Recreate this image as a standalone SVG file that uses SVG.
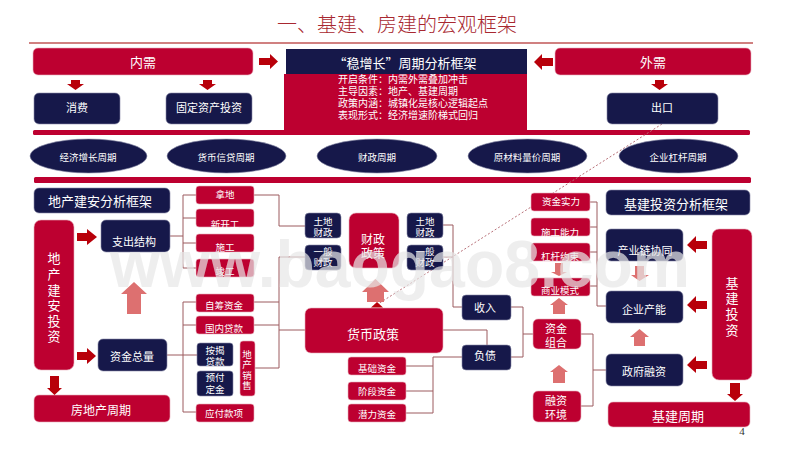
<svg xmlns="http://www.w3.org/2000/svg" width="800" height="450" viewBox="0 0 800 450">
<style>
text{font-family:"Noto Sans CJK SC","Noto Sans",sans-serif;fill:#fff;text-anchor:middle;dominant-baseline:central}
.r{fill:#bd0030;stroke:#e8b0bc;stroke-width:.6}
.n{fill:#16184a;stroke:#8a8ca8;stroke-width:.6}
.t9{font-size:9.5px}.t10{font-size:10px}.t11{font-size:11px}.t12{font-size:12px}.t13{font-size:13px}.t14{font-size:14px}
.c{fill:none;stroke:#9c5a5e;stroke-width:1}
.ar{fill:#b8000a}.ap{fill:#dd7070}
.l{text-anchor:start;font-size:10px}
</style>
<rect width="800" height="450" fill="#fff"/>
<text id="title" x="397" y="23" style="font-size:20px;fill:#a82830;font-weight:300">一、基建、房建的宏观框架</text>
<rect x="29" y="42" width="724" height="2" fill="#d08080"/>
<rect x="33" y="130" width="717" height="5" rx="1.5" fill="#bd0030"/>
<rect x="34" y="177" width="717" height="6" rx="1.5" fill="#bd0030"/>

<g id="connectors">
<path class="c" d="M170 236H183M183 195V268M183 195H196M183 218H196M183 243H196M183 268H196"/>
<path class="c" d="M254 195H279V226H305"/>
<path class="c" d="M167 355H183M183 302V412M183 302H196M183 325H196M183 355H197M183 412H196"/>
<path class="c" d="M254 302H279M254 325H279M255 368H279M279 368V257H305M279 330H305"/>
<path class="c" d="M443 225H453V307H462M443 257H453"/>
<path class="c" d="M443 330H487V345"/>
<path class="c" d="M462 357H433V413H406M406 366H433M406 391H433"/>
<path class="c" d="M511 307H523V357H511M523 334H533"/>
<path class="c" d="M590 202H597V306H606M590 227H597M590 252H597M590 286H597"/>
<path class="c" d="M581 334H593V406H581M593 370H606"/>
<path d="M662 124L378 304" fill="none" stroke="#b87078" stroke-width="1" stroke-dasharray="2 2"/>
</g>

<g id="center">
<rect x="284" y="74" width="243" height="61" fill="#bd0030"/>
<rect x="286" y="49" width="241" height="25" fill="#16184a"/>
<text x="405" y="62" class="t13">“稳增长”周期分析框架</text>
<text x="338" y="78" class="l">开启条件：内需外需叠加冲击</text>
<text x="338" y="90" class="l">主导因素：地产、基建周期</text>
<text x="338" y="102.5" class="l">政策内涵：城镇化是核心逻辑起点</text>
<text x="338" y="114" class="l">表现形式：经济增速阶梯式回归</text>
</g>

<g id="neixu"><rect class="r" x="33" y="48" width="220" height="27" rx="5"/><text x="143" y="61.5" class="t13">内需</text></g>
<g id="waixu"><rect class="r" x="555" y="48" width="196" height="27" rx="5"/><text x="653" y="61.5" class="t13">外需</text></g>
<g id="xiaofei"><rect class="n" x="34" y="93" width="86" height="31" rx="5"/><text x="77" y="107" class="t11">消费</text></g>
<g id="guding"><rect class="n" x="166" y="93" width="86" height="31" rx="5"/><text x="209" y="107" class="t11">固定资产投资</text></g>
<g id="chukou"><rect class="n" x="607" y="93" width="111" height="31" rx="5"/><text x="662" y="107" class="t11">出口</text></g>

<g id="e1"><ellipse cx="88.500" cy="156" rx="58.500" ry="17" class="n"/><text x="88" y="157" class="t9">经济增长周期</text></g>
<g id="e2"><ellipse cx="226.500" cy="156" rx="59.500" ry="17" class="n"/><text x="226" y="157" class="t9">货币信贷周期</text></g>
<g id="e3"><ellipse cx="377" cy="156" rx="60" ry="17" class="n"/><text x="377" y="157" class="t9">财政周期</text></g>
<g id="e4"><ellipse cx="527.500" cy="156" rx="59.500" ry="17" class="n"/><text x="527" y="157" class="t9">原材料量价周期</text></g>
<g id="e5"><ellipse cx="678.500" cy="156" rx="59.500" ry="17" class="n"/><text x="678" y="157" class="t9">企业杠杆周期</text></g>

<g id="dichan-kuang"><rect class="n" x="34" y="188" width="136" height="25" rx="5"/><text x="100" y="200" class="t13">地产建安分析框架</text></g>
<g id="dichan-touzi"><rect class="r" x="34" y="220" width="40" height="150" rx="7"/>
<text x="54" y="257" class="t13">地</text><text x="54" y="273" class="t13">产</text><text x="54" y="289" class="t13">建</text><text x="54" y="304" class="t13">安</text><text x="54" y="320" class="t13">投</text><text x="54" y="335" class="t13">资</text></g>
<g id="zhichu"><rect class="n" x="101" y="220" width="69" height="32" rx="5"/><text x="134" y="241" class="t11">支出结构</text></g>
<g id="zijin"><rect class="n" x="98" y="339" width="69" height="32" rx="5"/><text x="132" y="356" class="t11">资金总量</text></g>
<g id="fangdichan"><rect class="r" x="34" y="395" width="136" height="27" rx="5"/><text x="101" y="409" class="t12">房地产周期</text></g>

<g id="nadi"><rect class="r" x="196" y="186" width="58" height="18" rx="3"/><text x="225" y="194" class="t9">拿地</text></g>
<g id="xinkaigong"><rect class="r" x="196" y="209" width="58" height="18" rx="3"/><text x="225" y="224" class="t9">新开工</text></g>
<g id="shigong"><rect class="r" x="196" y="234" width="58" height="18" rx="3"/><text x="225" y="247" class="t9">施工</text></g>
<g id="jungong"><rect class="r" x="196" y="259" width="58" height="18" rx="3"/><text x="225" y="271" class="t9">竣工</text></g>
<g id="zichou"><rect class="r" x="196" y="294" width="58" height="18" rx="3"/><text x="224" y="305" class="t9">自筹资金</text></g>
<g id="guonei"><rect class="r" x="196" y="316" width="58" height="18" rx="3"/><text x="224" y="328" class="t9">国内贷款</text></g>
<g id="anjie"><rect class="n" x="197" y="343" width="36" height="23" rx="3"/><text x="215" y="350" class="t9">按揭</text><text x="215" y="361" class="t9">贷款</text></g>
<g id="yufu"><rect class="n" x="197" y="371" width="36" height="25" rx="3"/><text x="215" y="377" class="t9">预付</text><text x="215" y="389" class="t9">定金</text></g>
<g id="xiaoshou"><rect class="r" x="240" y="341" width="15" height="55" rx="3"/><text x="247" y="354" class="t9">地</text><text x="247" y="364" class="t9">产</text><text x="247" y="375" class="t9">销</text><text x="247" y="385" class="t9">售</text></g>
<g id="yingfu"><rect class="r" x="196" y="404" width="58" height="18" rx="3"/><text x="224" y="413" class="t9">应付款项</text></g>

<g id="tudi1"><rect class="n" x="305" y="213" width="36" height="25" rx="4"/><text x="323" y="221" class="t9">土地</text><text x="323" y="232" class="t9">财政</text></g>
<g id="yiban1"><rect class="n" x="305" y="245" width="36" height="25" rx="4"/><text x="323" y="251" class="t9">一般</text><text x="323" y="262" class="t9">财政</text></g>
<g id="caizheng"><rect class="r" x="349" y="213" width="50" height="55" rx="7"/><text x="373" y="238" class="t12">财政</text><text x="373" y="252" class="t12">政策</text></g>
<g id="tudi2"><rect class="n" x="407" y="213" width="36" height="25" rx="4"/><text x="425" y="221" class="t9">土地</text><text x="425" y="232" class="t9">财政</text></g>
<g id="yiban2"><rect class="n" x="407" y="245" width="36" height="25" rx="4"/><text x="425" y="251" class="t9">一般</text><text x="425" y="262" class="t9">财政</text></g>
<g id="huobi"><rect class="r" x="305" y="308" width="138" height="45" rx="6"/><text x="373" y="333" class="t13">货币政策</text></g>
<g id="shouru"><rect class="n" x="462" y="295" width="49" height="25" rx="4"/><text x="485" y="307" class="t11">收入</text></g>
<g id="fuzhai"><rect class="n" x="462" y="345" width="49" height="25" rx="4"/><text x="485" y="355" class="t11">负债</text></g>
<g id="jichu"><rect class="r" x="348" y="357" width="58" height="18" rx="3"/><text x="377" y="368" class="t9">基础资金</text></g>
<g id="jieduan"><rect class="r" x="348" y="382" width="58" height="18" rx="3"/><text x="377" y="391" class="t9">阶段资金</text></g>
<g id="qianli"><rect class="r" x="348" y="404" width="58" height="18" rx="3"/><text x="377" y="414" class="t9">潜力资金</text></g>

<g id="shili"><rect class="r" x="531" y="193" width="59" height="18" rx="3"/><text x="561" y="201" class="t9">资金实力</text></g>
<g id="nengli"><rect class="r" x="531" y="218" width="59" height="18" rx="3"/><text x="560" y="232" class="t9">施工能力</text></g>
<g id="yueshu"><rect class="r" x="531" y="243" width="59" height="18" rx="3"/><text x="560" y="256" class="t9">杠杆约束</text></g>
<g id="moshi"><rect class="r" x="531" y="278" width="59" height="18" rx="3"/><text x="560" y="290" class="t9">商业模式</text></g>
<g id="zuhe"><rect class="r" x="533" y="319" width="48" height="30" rx="5"/><text x="556" y="328" class="t11">资金</text><text x="556" y="342" class="t11">组合</text></g>
<g id="huanjing"><rect class="r" x="533" y="391" width="48" height="31" rx="5"/><text x="556" y="400" class="t11">融资</text><text x="556" y="414" class="t11">环境</text></g>
<g id="jijian-kuang"><rect class="n" x="606" y="190" width="144" height="25" rx="5"/><text x="676" y="203" class="t13">基建投资分析框架</text></g>
<g id="chanye"><rect class="n" x="606" y="229" width="77" height="32" rx="5"/><text x="645" y="250" class="t11">产业链协同</text></g>
<g id="qiye"><rect class="n" x="606" y="291" width="77" height="32" rx="5"/><text x="644" y="309" class="t11">企业产能</text></g>
<g id="zhengfu"><rect class="n" x="606" y="354" width="77" height="32" rx="5"/><text x="644" y="371" class="t11">政府融资</text></g>
<g id="jijian-touzi"><rect class="r" x="712" y="229" width="40" height="151" rx="7"/>
<text x="732" y="282" class="t13">基</text><text x="732" y="297" class="t13">建</text><text x="732" y="313" class="t13">投</text><text x="732" y="329" class="t13">资</text></g>
<g id="jijian-zhouqi"><rect class="r" x="608" y="402" width="142" height="25" rx="5"/><text x="678" y="415" class="t13">基建周期</text></g>

<g id="arrows">
<path class="ar" d="M259 58H270V54L278 61.500L270 69V65H259Z"/>
<path class="ar" d="M553 58H542V54L534 62L542 70V66H553Z"/>
<path class="ar" d="M71 80H80V84H84L75.500 90L67 84H71Z"/>
<path class="ar" d="M203 80H212V84H216L207.500 90L199 84H203Z"/>
<path class="ar" d="M655 80H664V84H668L659.500 90L651 84H655Z"/>
<path class="ar" d="M77 233H87V229L97 237L87 245V241H77Z"/>
<path class="ar" d="M77 352H87V348L96 356L87 364V360H77Z"/>
<path class="ar" d="M50 376H59V388H62L54.500 395L47 388H50Z"/>
<path class="ar" d="M707 241H696V236L687 245L696 253V249H707Z"/>
<path class="ar" d="M707 301H696V296L687 305L696 313V309H707Z"/>
<path class="ar" d="M707 361H696V356L687 365L696 373V369H707Z"/>
<path class="ar" d="M730 383H740V394H743L735 401L727 394H730Z"/>
<path class="ar" d="M377 302L371 307.500H383Z"/>
<path class="ap" d="M127 314V294H121L134 282L147 294H141V314Z"/>
<path class="ap" d="M367 302V292H362L375.500 279L389 292H384V302Z"/>
<path class="ap" d="M555 263H563V272H567L559 276L551 272H555Z"/>
<path class="ap" d="M553 314V305H550L559 298L568 305H565V314Z"/>
<path class="ap" d="M553 383V372H550L559 365L568 372H565V383Z"/>
<path class="ap" d="M635 266H644V275H649L639.500 281L631 275H635Z"/>
<path class="ap" d="M634 346V337H630L639.500 329L649 337H645V346Z"/>
</g>

<text id="watermark" x="400" y="287" textLength="580" lengthAdjust="spacingAndGlyphs" style="font-family:'Liberation Sans',sans-serif;font-weight:700;font-size:66px;fill:#e8e8e8;opacity:.7;dominant-baseline:alphabetic">www.baogao8.com</text>
<text id="page" x="742" y="431" style="font-family:'Liberation Serif',serif;font-size:11px;fill:#333">4</text>
</svg>
